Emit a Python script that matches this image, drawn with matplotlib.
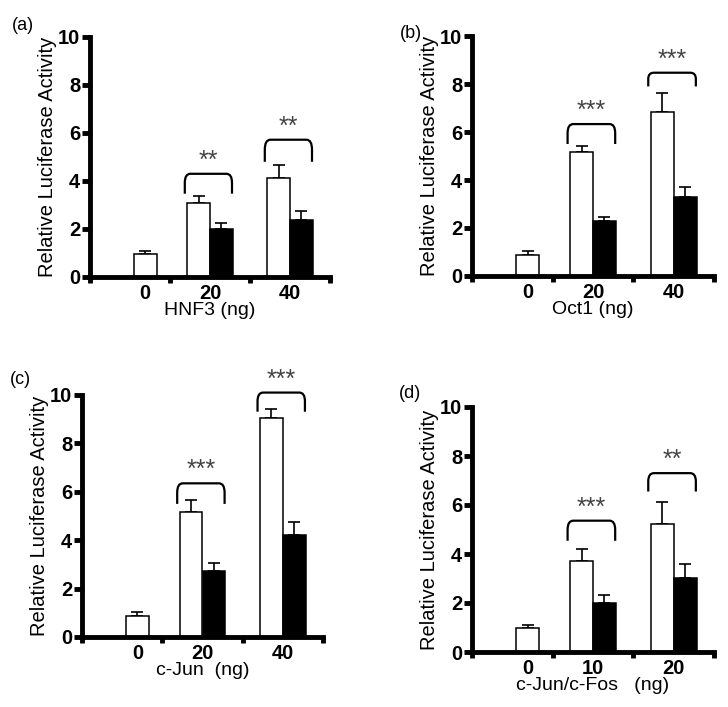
import matplotlib
matplotlib.use("Agg")
import matplotlib.pyplot as plt
from matplotlib.path import Path
from matplotlib.patches import PathPatch
import numpy as np

plt.rcParams['font.family'] = ['Liberation Sans', 'DejaVu Sans']

W, H = 728, 707

# ---- data ----
panel_letters = ['(a)', '(b)', '(c)', '(d)']
xlabels = ['HNF3 (ng)', 'Oct1 (ng)', 'c-Jun  (ng)', 'c-Jun/c-Fos   (ng)']
dose_labels = [['0', '20', '40'], ['0', '20', '40'], ['0', '20', '40'], ['0', '10', '20']]
ctrl_mean = [0.94, 0.86, 0.85, 0.98]
ctrl_err = [0.14, 0.20, 0.18, 0.11]
white_mean = [[3.10, 4.12], [5.15, 6.85], [5.17, 9.04], [3.72, 5.21]]
white_err = [[0.26, 0.53], [0.27, 0.79], [0.50, 0.37], [0.50, 0.93]]
black_mean = [[2.00, 2.39], [2.30, 3.28], [2.74, 4.22], [2.00, 3.03]]
black_err = [[0.26, 0.37], [0.17, 0.44], [0.31, 0.55], [0.32, 0.57]]
bracket_top = [[4.30, 5.72], [6.33, 8.47], [6.35, 10.10], [5.36, 7.30]]
bracket_leg = [[3.47, 4.80], [5.50, 7.90], [5.50, 9.31], [4.54, 6.55]]
stars = [['**', '**'], ['***', '***'], ['***', '***'], ['***', '**']]

# ---- layout (pixel boxes: left, top, right, bottom) ----
boxes = [(90, 37, 330, 277), (472, 36, 714, 276), (82, 395, 323, 637), (472, 407, 714, 652)]
letter_pos = [(12, 25), (400, 33), (10, 380), (399, 393)]

fig = plt.figure(figsize=(W / 100, H / 100), dpi=100)

bw = 0.285
centers = [0.69, 1.5, 2.5]


def bracket(ax, x0, x1, ytop, yleg):
    rx = 0.07
    ry = (ytop - yleg) * 0.45
    verts = [(x0, yleg), (x0, ytop - ry), (x0, ytop), (x0 + rx, ytop),
             (x1 - rx, ytop), (x1, ytop), (x1, ytop - ry), (x1, yleg)]
    codes = [Path.MOVETO, Path.LINETO, Path.CURVE3, Path.CURVE3,
             Path.LINETO, Path.CURVE3, Path.CURVE3, Path.LINETO]
    ax.add_patch(PathPatch(Path(verts, codes), fill=False, lw=1.6,
                           edgecolor='black', clip_on=False))


ekw = dict(fmt='none', ecolor='black', elinewidth=1.2, capsize=4.5, capthick=1.2, zorder=1)

for i in range(4):
    l, t, r, b = boxes[i]
    ax = fig.add_axes([l / W, 1 - b / H, (r - l) / W, (b - t) / H])
    # control bar
    ax.bar(centers[0], ctrl_mean[i], bw, color='white', edgecolor='black', lw=1.1, zorder=2)
    ax.errorbar(centers[0], ctrl_mean[i], yerr=[[0], [ctrl_err[i]]], **ekw)
    for j in range(2):
        c = centers[j + 1]
        ax.bar(c - bw / 2, white_mean[i][j], bw, color='white', edgecolor='black', lw=1.1, zorder=2)
        ax.bar(c + bw / 2, black_mean[i][j], bw, color='black', edgecolor='black', lw=1.1, zorder=2)
        ax.errorbar(c - bw / 2, white_mean[i][j], yerr=[[0], [white_err[i][j]]], **ekw)
        ax.errorbar(c + bw / 2, black_mean[i][j], yerr=[[0], [black_err[i][j]]], **ekw)
        x0 = c - bw - 0.03
        x1 = c + bw - 0.01
        bracket(ax, x0, x1, bracket_top[i][j], bracket_leg[i][j])
        ax.text((x0 + x1) / 2, bracket_top[i][j] + 0.05, stars[i][j], ha='center', va='bottom',
                fontsize=18, color='#444444', clip_on=False)

    ax.set_xlim(0, 3)
    ax.set_ylim(0, 10)
    for s in ['top', 'right']:
        ax.spines[s].set_visible(False)
    for s in ['left', 'bottom']:
        ax.spines[s].set_linewidth(3.5)
    ax.set_yticks([0, 2, 4, 6, 8, 10])
    ax.set_yticklabels(['0', '2', '4', '6', '8', '10'], fontweight='bold', fontsize=14.5)
    ax.tick_params(axis='y', direction='out', length=6, width=3.5, pad=1)
    ax.set_xticks([0, 1, 2, 3])
    ax.set_xticklabels([])
    ax.tick_params(axis='x', which='major', direction='out', length=4, width=3.5)
    ax.set_xticks(centers, minor=True)
    ax.set_xticklabels(dose_labels[i], minor=True, fontweight='bold', fontsize=14.5)
    ax.tick_params(axis='x', which='minor', length=0, pad=5)
    ax.set_xlabel(xlabels[i], fontsize=14, labelpad=-1)
    ax.set_ylabel('Relative Luciferase Activity', fontsize=14.5, labelpad=1)
    fig.text(letter_pos[i][0] / W, 1 - letter_pos[i][1] / H, panel_letters[i],
             fontsize=13, ha='left', va='center')

fig.savefig('out.png', dpi=100)
